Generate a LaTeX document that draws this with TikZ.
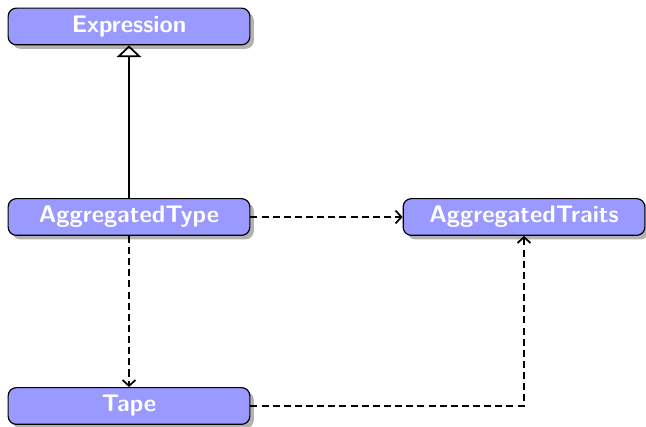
\documentclass[tikz,border=0pt]{standalone}
\usetikzlibrary{arrows.meta,shadows}
\begin{document}
\begin{tikzpicture}[x=0.03cm,y=0.03cm,
    cls/.style={draw=black,line width=1pt,fill=blue!40,rounded corners=7pt,
        minimum width=7.25cm,minimum height=1.1cm,inner sep=0pt,
        font=\fontsize{20.5}{22}\selectfont\sffamily\bfseries,text=white,
        drop shadow={shadow xshift=0.12cm,shadow yshift=-0.12cm,fill=black!30,opacity=1}},
    dep/.style={line width=1.5pt,dash pattern=on 6pt off 3.5pt,-{Straight Barb[length=5pt,width=11pt]}}]
    \useasboundingbox (0,0) rectangle (646,427);
    \node[cls] (expr) at (129,400.5) {Expression};
    \node[cls] (aggtype) at (129,210) {AggregatedType};
    \node[cls] (aggtraits) at (524,210) {AggregatedTraits};
    \node[cls] (tape) at (129,21) {Tape};
    \coordinate (corner) at (aggtraits.south |- tape.east);
    \draw[line width=1.5pt,-{Triangle[open,length=10pt,width=21pt]}] (aggtype) -- (expr);
    \draw[dep] (aggtype) -- (aggtraits);
    \draw[dep] (aggtype) -- (tape);
    \draw[dep] (tape.east) -- (corner) -- (aggtraits.south);
\end{tikzpicture}
\end{document}
